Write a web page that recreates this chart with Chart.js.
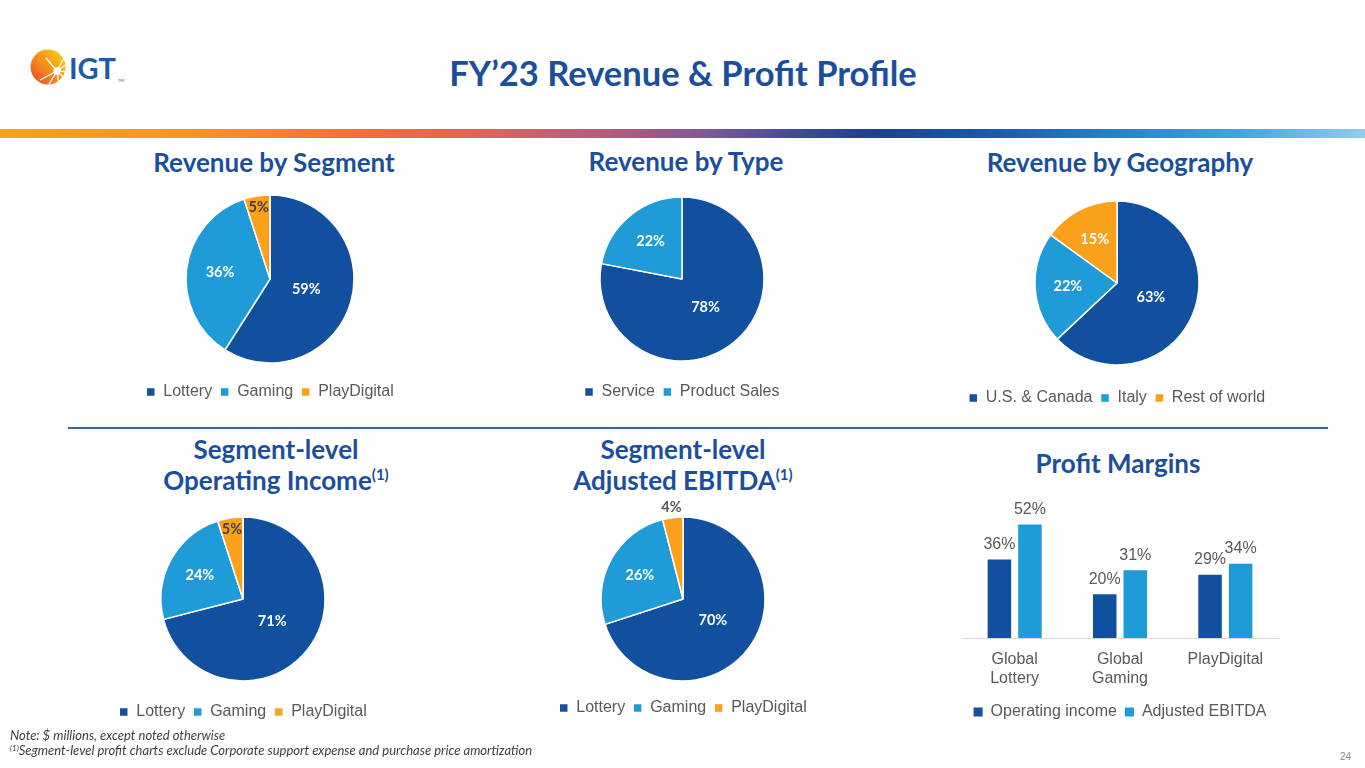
<!DOCTYPE html>
<html>
<head>
<meta charset="utf-8">
<script src="https://cdn.jsdelivr.net/npm/chart.js@4.4.0/dist/chart.umd.min.js"></script>
<style>
  html, body { margin: 0; padding: 0; background: #fff; }
  #slide { position: relative; width: 1365px; height: 768px; overflow: hidden; background: #fff; }
  .abs { position: absolute; }
  .title { font-family: Lato, sans-serif; font-weight: 700; color: #1B4F9C; text-align: center; white-space: nowrap; }
  .sec { font-size: 26px; line-height: 31px; width: 400px; }
  sup { font-size: 15px; line-height: 0; vertical-align: 10px; }
  .note { font-family: Lato, sans-serif; font-style: italic; font-size: 13px; color: #404040; line-height: 15px; white-space: nowrap; }
  .note sup { font-size: 8px; vertical-align: 4px; }
  canvas { position: absolute; }
</style>
</head>
<body>
<div id="slide">
  <svg class="abs" style="left:26px;top:44px" width="110" height="48" viewBox="0 0 110 48">
    <defs>
      <linearGradient id="sun" x1="0" y1="1" x2="1" y2="0">
        <stop offset="0" stop-color="#E8401F"/>
        <stop offset="0.45" stop-color="#F58A1F"/>
        <stop offset="1" stop-color="#FFD80F"/>
      </linearGradient>
      <clipPath id="disc"><circle cx="22" cy="23" r="17.5"/></clipPath>
    </defs>
    <circle cx="22" cy="23" r="17.5" fill="url(#sun)"/>
    <g clip-path="url(#disc)" stroke="#fff" stroke-width="1.3">
      <line x1="31" y1="27" x2="40" y2="10"/>
      <line x1="31" y1="27" x2="44" y2="18"/>
      <line x1="31" y1="27" x2="45" y2="28"/>
      <line x1="31" y1="27" x2="42" y2="38"/>
      <line x1="31" y1="27" x2="33" y2="42"/>
      <line x1="31" y1="27" x2="22" y2="42"/>
      <line x1="31" y1="27" x2="14" y2="36"/>
      <line x1="31" y1="27" x2="20" y2="14"/>
      <circle cx="31" cy="27" r="3" fill="#fff"/>
      <path d="M 12 40 A 19 19 0 0 0 40 33" fill="none" stroke="#1D5BAA" stroke-width="1.5"/>
    </g>
    <text x="43" y="34.5" font-family="Lato, sans-serif" font-weight="700" font-size="29" fill="#1D5BAA">IGT</text>
    <text x="92" y="38" font-family="Lato, sans-serif" font-size="4" fill="#1D5BAA">TM</text>
  </svg>

  <div class="abs title" style="left:333px;top:52px;width:700px;font-size:34.5px;line-height:42px">FY’23 Revenue &amp; Profit Profile</div>
  <div class="abs" style="left:0;top:129px;width:1365px;height:9px;background:linear-gradient(to right,#F9A11B 0%,#F7932A 14%,#F26C3C 27%,#DA6460 36%,#B65C7E 44%,#7E5896 52%,#3A4A92 59%,#1D3F8E 64%,#1C57A8 72%,#2684C8 82%,#43A6DD 91%,#95CCEB 100%)"></div>

  <div class="abs title sec" style="left:74px;top:147px">Revenue by Segment</div>
  <div class="abs title sec" style="left:486px;top:146px">Revenue by Type</div>
  <div class="abs title sec" style="left:920px;top:147px">Revenue by Geography</div>

  <div class="abs" style="left:68px;top:427px;width:1260px;height:2px;background:#3A62A0"></div>

  <div class="abs title sec" style="left:76px;top:434px">Segment-level<br>Operating Income<sup>(1)</sup></div>
  <div class="abs title sec" style="left:483px;top:434px">Segment-level<br>Adjusted EBITDA<sup>(1)</sup></div>
  <div class="abs title sec" style="left:918px;top:448px">Profit Margins</div>

  <canvas id="pieSegment" width="380" height="244" style="left:80px;top:166px"></canvas>
  <canvas id="pieType" width="380" height="244" style="left:492px;top:166px"></canvas>
  <canvas id="pieGeo" width="380" height="248" style="left:927px;top:168px"></canvas>
  <canvas id="pieOpInc" width="380" height="244" style="left:53px;top:486px"></canvas>
  <canvas id="pieEbitda" width="380" height="236" style="left:493px;top:490px"></canvas>
  <canvas id="barMargins" width="440" height="248" style="left:900px;top:482px"></canvas>

  <div class="abs note" style="left:10px;top:728px">Note: $ millions, except noted otherwise</div>
  <div class="abs note" style="left:10px;top:743px"><sup>(1)</sup>Segment-level profit charts exclude Corporate support expense and purchase price amortization</div>
  <div class="abs" style="left:1340px;top:751px;font-family:'Liberation Sans',Arial,sans-serif;font-size:10px;color:#8C8C8C">24</div>
</div>

<script>
// values (percent)
const segmentLabels = ['Lottery', 'Gaming', 'PlayDigital'];
const revenueBySegment = [59, 36, 5];
const typeLabels = ['Service', 'Product Sales'];
const revenueByType = [78, 22];
const geoLabels = ['U.S. & Canada', 'Italy', 'Rest of world'];
const revenueByGeo = [63, 22, 15];
const opIncomeBySegment = [71, 24, 5];
const ebitdaBySegment = [70, 26, 4];
const marginCategories = [['Global', 'Lottery'], ['Global', 'Gaming'], 'PlayDigital'];
const operatingMargin = [36, 20, 29];
const ebitdaMargin = [52, 31, 34];

const DARK = '#10509F';
const LIGHT = '#1F9BD7';
const ORANGE = '#F9A11B';
const GREY = '#595959';

Chart.defaults.font.family = "'Liberation Sans', Arial, sans-serif";
Chart.defaults.color = GREY;

const pieLabels = {
    id: 'pieLabels',
    afterDatasetsDraw(chart) {
        const {ctx} = chart;
        const data = chart.data.datasets[0].data;
        ctx.save();
        ctx.font = 'bold 14.5px Lato';
        ctx.textAlign = 'center';
        ctx.textBaseline = 'middle';
        chart.getDatasetMeta(0).data.forEach((arc, i) => {
            const v = data[i];
            const {x, y, startAngle, endAngle, outerRadius} =
                arc.getProps(['x', 'y', 'startAngle', 'endAngle', 'outerRadius'], true);
            const mid = (startAngle + endAngle) / 2;
            let k = 0.6, color = '#FFFFFF';
            if (v >= 50) k = 0.45;
            else if (v < 5) { k = 1.13; color = GREY; }
            else if (v < 10) { k = 0.86; color = '#404040'; }
            ctx.fillStyle = color;
            ctx.fillText(v + '%', x + Math.cos(mid) * outerRadius * k, y + Math.sin(mid) * outerRadius * k);
        });
        ctx.restore();
    }
};

const barLabels = {
    id: 'barLabels',
    afterDatasetsDraw(chart) {
        const {ctx} = chart;
        ctx.save();
        ctx.font = '16px "Liberation Sans", Arial';
        ctx.fillStyle = GREY;
        ctx.textAlign = 'center';
        ctx.textBaseline = 'middle';
        chart.data.datasets.forEach((ds, i) => {
            chart.getDatasetMeta(i).data.forEach((bar, j) => {
                ctx.fillText(ds.data[j] + '%', bar.x, bar.y - 15);
            });
        });
        ctx.restore();
    }
};

const legendOpts = {
    position: 'bottom',
    labels: {
        boxWidth: 9,
        boxHeight: 9,
        padding: 8,
        color: GREY,
        font: {size: 16}
    }
};

function makePie(id, labels, values, radius) {
    new Chart(document.getElementById(id), {
        type: 'pie',
        data: {
            labels: labels,
            datasets: [{
                data: values,
                backgroundColor: [DARK, LIGHT, ORANGE].slice(0, values.length),
                borderColor: '#FFFFFF',
                borderWidth: 1.5,
                radius: radius
            }]
        },
        options: {
            responsive: false,
            animation: false,
            layout: {padding: {top: 16}},
            plugins: {
                legend: legendOpts,
                tooltip: {enabled: false}
            }
        },
        plugins: [pieLabels]
    });
}

makePie('pieSegment', segmentLabels, revenueBySegment, 84);
makePie('pieType', typeLabels, revenueByType, 82);
makePie('pieGeo', geoLabels, revenueByGeo, 82);
makePie('pieOpInc', segmentLabels, opIncomeBySegment, 82);
makePie('pieEbitda', segmentLabels, ebitdaBySegment, 82);

new Chart(document.getElementById('barMargins'), {
    type: 'bar',
    data: {
        labels: marginCategories,
        datasets: [{
            label: 'Operating income',
            data: operatingMargin,
            backgroundColor: DARK
        }, {
            label: 'Adjusted EBITDA',
            data: ebitdaMargin,
            backgroundColor: LIGHT
        }]
    },
    options: {
        responsive: false,
        animation: false,
        categoryPercentage: 0.58,
        barPercentage: 0.77,
        layout: {padding: {top: 25, left: 62, right: 62}},
        scales: {
            x: {
                grid: {display: false, drawTicks: false},
                border: {color: '#D9D9D9', width: 1},
                ticks: {color: GREY, font: {size: 16}, padding: 12},
                afterFit: (scale) => { scale.height = 58; }
            },
            y: {
                display: false,
                min: 0,
                max: 60
            }
        },
        plugins: {
            legend: legendOpts,
            tooltip: {enabled: false}
        }
    },
    plugins: [barLabels]
});
</script>
</body>
</html>
